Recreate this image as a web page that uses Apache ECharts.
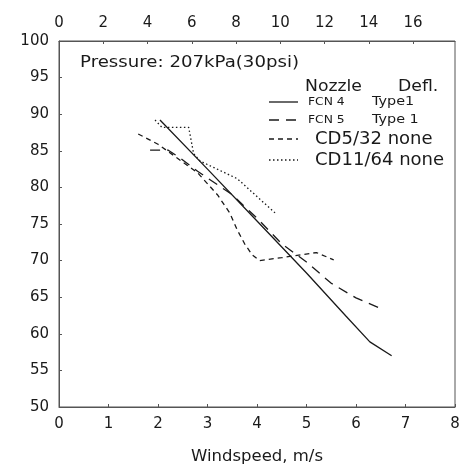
<!DOCTYPE html>
<html>
<head>
<meta charset="utf-8">
<script src="https://cdn.jsdelivr.net/npm/echarts@6/dist/echarts.min.js"></script>
<style>
html, body { margin: 0; padding: 0; background: #fff; }
#main { width: 462px; height: 466px; }
</style>
</head>
<body>
<div id="main"></div>
<script>
// windspeed (m/s), uniformity (%)
var fcn4 = [[2.04, 89.2], [3.0, 82.5], [4.0, 75.4], [5.0, 68.3], [5.8, 62.4], [6.28, 58.9], [6.72, 57.0]];
var fcn5 = [[1.84, 85.1], [2.2, 85.1], [2.45, 84.0], [2.8, 82.2], [3.5, 79.0], [4.0, 75.8], [4.5, 72.3],
            [5.0, 69.8], [5.5, 66.9], [6.0, 64.9], [6.55, 63.3]];
var cd532 = [[1.6, 87.3], [2.0, 85.9], [2.8, 82.0], [3.2, 79.0], [3.45, 76.5], [3.6, 74.2], [3.75, 72.3],
             [3.9, 70.8], [4.05, 70.0], [4.5, 70.4], [5.2, 71.1], [5.55, 70.1]];
var cd1164 = [[1.94, 89.2], [2.08, 88.2], [2.62, 88.2], [2.72, 84.6], [2.85, 83.6], [3.6, 81.2], [4.4, 76.3]];

var seriesNames = ['FCN 4', 'FCN 5', 'CD5/32', 'CD11/64'];
var deflNames = ['Type1', 'Type 1', 'none', 'none'];
var dashes = ['solid', [10, 7], [5, 4], [1.5, 2.5]];

var ink = '#1a1a1a';
var frame = '#555';
var font = 'DejaVu Sans';

var chart = echarts.init(document.getElementById('main'));

function mkSeries(name, data, dash) {
    return {
        name: name,
        type: 'line',
        data: data,
        symbol: 'none',
        xAxisIndex: 0,
        lineStyle: { color: ink, width: 1.3, type: dash },
        animation: false
    };
}

function txt(x, y, s, size, sx) {
    return {
        type: 'text', x: x, y: y, scaleX: sx || 1,
        style: { text: s, font: size + 'px ' + font, fill: ink, verticalAlign: 'middle' }
    };
}

// legend drawn by hand: two columns, small font for the FCN rows
var legendRows = [
    { y: 102, small: true },
    { y: 120, small: true },
    { y: 139, small: false },
    { y: 160, small: false }
];
var graphics = [
    txt(80, 63, 'Pressure: 207kPa(30psi)', 16.5, 1.1),
    txt(305, 87, 'Nozzle', 15, 1.15),
    txt(398, 87, 'Defl.', 15, 1.15)
];
legendRows.forEach(function (r, i) {
    graphics.push({
        type: 'line',
        shape: { x1: 269, y1: r.y, x2: 298, y2: r.y },
        style: { stroke: ink, lineWidth: 1.3, lineDash: dashes[i] === 'solid' ? null : dashes[i] }
    });
    if (r.small) {
        graphics.push(txt(308, r.y, seriesNames[i], 11, 1.12));
        graphics.push(txt(372, r.y, deflNames[i], 11.5, 1.25));
    } else {
        graphics.push(txt(315, r.y, seriesNames[i] + ' ' + deflNames[i], 17.5, 1.03));
    }
});

var option = {
    backgroundColor: '#fff',
    animation: false,
    grid: {
        left: 59, right: 7, top: 41, bottom: 59,
        outerBoundsMode: 'none',
        show: true, borderColor: frame, borderWidth: 1
    },
    xAxis: [{
        type: 'value',
        position: 'bottom',
        min: 0, max: 8, interval: 1,
        name: 'Windspeed, m/s',
        nameLocation: 'middle',
        nameGap: 41,
        nameTextStyle: { color: ink, fontSize: 16.5, fontFamily: font },
        axisLine: { show: true, lineStyle: { color: frame } },
        axisTick: { show: true, inside: true, length: 3, lineStyle: { color: frame } },
        axisLabel: { color: ink, fontSize: 15, fontFamily: font, margin: 10 },
        splitLine: { show: false }
    }, {
        type: 'value',
        position: 'top',
        min: 0, max: 8 / 0.44704, interval: 2,
        axisLine: { show: true, lineStyle: { color: frame } },
        axisTick: { show: true, inside: true, length: 3, lineStyle: { color: frame } },
        axisLabel: { color: ink, fontSize: 15, fontFamily: font, margin: 10, showMaxLabel: false },
        splitLine: { show: false }
    }],
    yAxis: {
        type: 'value',
        min: 50, max: 100, interval: 5,
        axisLine: { show: true, lineStyle: { color: frame } },
        axisTick: { show: true, inside: true, length: 3, lineStyle: { color: frame } },
        axisLabel: { color: ink, fontSize: 15, fontFamily: font, margin: 10 },
        splitLine: { show: false }
    },
    series: [
        mkSeries(seriesNames[0], fcn4, dashes[0]),
        mkSeries(seriesNames[1], fcn5, dashes[1]),
        mkSeries(seriesNames[2], cd532, dashes[2]),
        mkSeries(seriesNames[3], cd1164, dashes[3])
    ],
    graphic: graphics
};
chart.setOption(option);
</script>
</body>
</html>
